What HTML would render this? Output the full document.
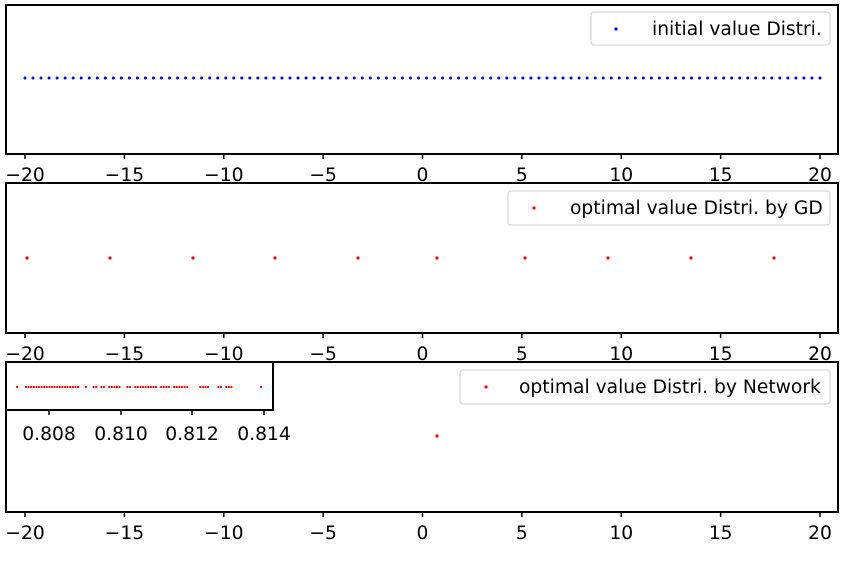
<!DOCTYPE html>
<html><head><meta charset="utf-8"><style>body{margin:0;background:#fff}svg{display:block}</style></head><body>
<svg width="857" height="561" xmlns="http://www.w3.org/2000/svg" font-family="DejaVu Sans, Liberation Sans, sans-serif">
<rect width="857" height="561" fill="#fff"/>
<g id="dots1" fill="#0000ff"></g>
<g fill="#ff0000">
<circle cx="27" cy="258" r="1.6"/><circle cx="110" cy="258" r="1.6"/><circle cx="193" cy="258" r="1.6"/><circle cx="275" cy="258" r="1.6"/><circle cx="358" cy="258" r="1.6"/><circle cx="437" cy="258" r="1.6"/><circle cx="525" cy="258" r="1.6"/><circle cx="608" cy="258" r="1.6"/><circle cx="691" cy="258" r="1.6"/><circle cx="774" cy="258" r="1.6"/>
<circle cx="437" cy="436" r="1.6"/>
</g>
<g fill="none" stroke="#000" stroke-width="2">
<rect x="6" y="5" width="832" height="149"/>
<rect x="6" y="183" width="832" height="150"/>
<rect x="6" y="362" width="832" height="150"/>
</g>
<g id="ticks" stroke="#000" stroke-width="1.5"></g>
<g id="labels" font-size="18.7" fill="#000" text-anchor="middle"></g>
<rect x="6" y="362" width="267" height="48" fill="#fff" stroke="#000" stroke-width="2"/>
<g id="inset" fill="#ff0000"></g>
<g stroke="#000" stroke-width="1.5"><line x1="49" y1="410" x2="49" y2="415"/><line x1="121" y1="410" x2="121" y2="415"/><line x1="192" y1="410" x2="192" y2="415"/><line x1="264" y1="410" x2="264" y2="415"/></g>
<g font-size="18.7" text-anchor="middle"><text x="49" y="440">0.808</text><text x="121" y="440">0.810</text><text x="192" y="440">0.812</text><text x="264" y="440">0.814</text></g>
<g fill="#fff" stroke="#ccc" stroke-width="1">
<rect x="591" y="12" width="239" height="33" rx="3"/>
<rect x="508" y="191" width="322" height="34" rx="3"/>
<rect x="460" y="370" width="370" height="34" rx="3"/>
</g>
<circle cx="616" cy="29" r="1.6" fill="#0000ff"/>
<circle cx="534" cy="208" r="1.6" fill="#ff0000"/>
<circle cx="486" cy="387" r="1.6" fill="#ff0000"/>
<g font-size="18.7"><text x="652" y="35">initial value Distri.</text><text x="570" y="214">optimal value Distri. by GD</text><text x="519" y="393">optimal value Distri. by Network</text></g>
</svg>
<script>
var ns="http://www.w3.org/2000/svg";
function el(p,t,a,txt){var e=document.createElementNS(ns,t);for(var k in a)e.setAttribute(k,a[k]);if(txt)e.textContent=txt;document.getElementById(p).appendChild(e);}
for(var i=0;i<100;i++){el("dots1","circle",{cx:25+i*795/99,cy:78,r:1.5});}
var bots=[154,333,512];
for(var b=0;b<3;b++){for(var v=-20;v<=20;v+=5){var x=422.5+v*19.875;el("ticks","line",{x1:x,y1:bots[b],x2:x,y2:bots[b]+5});el("labels","text",{x:x,y:bots[b]+27},(v<0?"\u2212":"")+Math.abs(v));}}
var xs=[17];var gaps=[[19,25],[80,84],[88,92],[97,101],[104,108],[122,125],[131,133],[157,160],[170,173],[189,198],[208,218],[221,224],[232,243],[245,259]];
for(var x=26;x<240;x+=2.6){var skip=false;for(var j=0;j<gaps.length;j++){if(x>gaps[j][0]&&x<gaps[j][1])skip=true;}if(!skip)xs.push(x);}
xs.push(261);
for(var k=0;k<xs.length;k++){el("inset","circle",{cx:xs[k],cy:387,r:1.1});}
</script>
</body></html>
